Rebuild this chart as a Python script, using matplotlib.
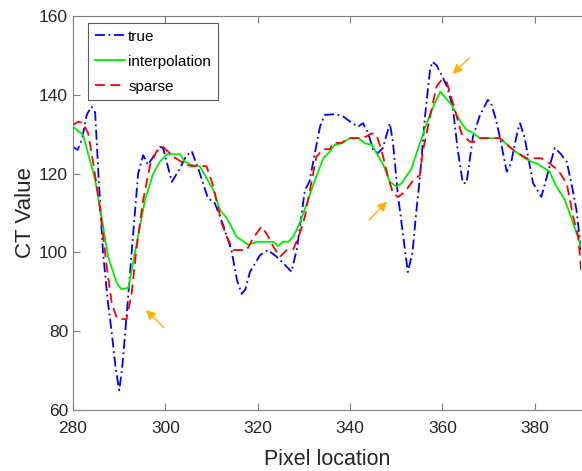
import numpy as np
import matplotlib
matplotlib.use("Agg")
import matplotlib.pyplot as plt

plt.rcParams['font.family'] = ['Liberation Sans', 'DejaVu Sans']

# true profile
x_true = [280, 281, 282, 283, 284, 284.8, 285.5, 286.5, 287.5, 288.4, 289.2, 290, 290.6, 291.3, 292.7,
          294.1, 295.2, 296.2, 297.5, 298.8, 299.5, 300.5, 301.4, 303, 304.5, 305.7, 307.2, 309.2,
          310.7, 312.5, 314.3, 315.5, 316.5, 317.3, 318.3, 320.5, 322.2, 324, 325.5, 327.3, 328.5,
          330.2, 331.2, 332.5, 333.5, 334.5, 337, 338.5, 340, 341.7, 342.8, 343.9, 345, 346, 347.1,
          348.6, 349.3, 350.3, 351.4, 352.5, 353.5, 354.3, 355.1, 356.2, 357.3, 357.8, 358.7, 360,
          361, 362.2, 363.3, 364.4, 365.2, 366.6, 368, 369.8, 370.5, 371.5, 372.4, 373.9, 374.8,
          376.3, 376.8, 377.8, 379.6, 381.4, 383, 384.3, 385.6, 386.9, 388, 389, 390]
y_true = [126.8, 126, 129, 135, 137, 135.5, 120, 100, 88, 79.5, 71, 65, 70, 79.5, 100,
          120, 124.7, 122.2, 124.5, 126.8, 126.5, 122, 117.9, 121, 124.5, 125.7, 121, 113.8,
          112.5, 107, 100.6, 93, 89.5, 90.5, 95, 99.3, 100.6, 99, 97.3, 95.1, 101,
          115.8, 118, 126, 132, 134.9, 135.1, 134.5, 133.2, 131.9, 132.8, 130.3, 126, 125.2, 126.5,
          132.8, 127.7, 115, 105, 95, 100, 110, 119, 134.4, 146.3, 148.4, 147.5, 144.6,
          142, 137, 126, 117.6, 117.6, 129.4, 134.5, 138.7, 138, 134, 129.4, 120.5, 122.5,
          131.1, 132.8, 129, 117.6, 114.1, 121, 126.5, 125, 123, 117, 110.8, 100.5]

# interpolation profile
x_interp = [280, 282.2, 284.8, 286.2, 287.6, 289.5, 290.5, 292, 293.8, 295.6, 297.4, 298.8, 300.3,
            303.2, 304.2, 305.7, 307.5, 310.4, 311.8, 313.3, 315.4, 318, 319.8, 323.4, 324.4,
            325.5, 326.6, 327.7, 329.1, 330.9, 332.4, 334.2, 335.3, 336.7, 338.2, 340, 341.8,
            343.2, 344.7, 347.2, 348.6, 350.1, 351.1, 353.3, 355.1, 357.3, 359.5, 362, 364,
            365.2, 366.3, 368.1, 372.4, 375.3, 377.8, 379.3, 380.4, 383.2, 384.3, 386.5, 388.3, 390]
y_interp = [131.9, 129.8, 118.4, 109, 98.9, 92.2, 90.7, 91, 102.4, 113.3, 120.1, 123, 124.9,
            124.9, 123, 122.2, 121.8, 115.8, 110.8, 108.7, 104, 101.9, 102.7, 102.7, 101.6,
            102.7, 102.7, 104, 107.4, 113.3, 118.4, 123.9, 125.2, 127.3, 127.7, 129, 129,
            127.7, 127.3, 122.2, 117.9, 116.7, 117.5, 121.3, 127.7, 135.1, 140.8, 137.4, 133,
            131.1, 130.6, 129, 129, 126, 123.9, 123, 122.6, 120.5, 117.5, 113.3, 107.4, 101.4]

# sparse profile
x_sparse = [280, 281.1, 282.2, 283.3, 284.4, 285.8, 287.3, 288.4, 289.5, 291.6, 292.7, 293.8, 295.2,
            296.7, 298.1, 299.5, 301.7, 304.6, 306, 308.9, 310.4, 312.2, 313.3, 314.7, 317.6,
            319, 320.8, 321.9, 323.4, 324.8, 326.3, 327.7, 329.1, 330.2, 331.3, 332.7, 334.2,
            335.6, 336.3, 338.2, 339.6, 342.8, 344.7, 345.7, 346.8, 348.2, 349.3, 350.4, 351.9,
            353.7, 355.1, 355.8, 357.3, 358.7, 359.8, 360.9, 362.3, 364.1, 365.9, 367.4, 368.1,
            372.4, 375.5, 378.2, 381.4, 383.2, 385, 386.9, 388.3, 389.4, 390]
y_sparse = [132.3, 133.2, 132.8, 130.2, 122.6, 111.6, 96.4, 87.1, 83.3, 83, 89.6, 101.4, 113.3,
            122.2, 125.6, 126.8, 124.3, 122.2, 121.9, 121.9, 116.7, 107.4, 104, 100.6, 100.6,
            103.6, 106.5, 104.8, 101.4, 98.9, 100.6, 100.8, 104.8, 109, 115.8, 124.3, 126.2,
            126.2, 127.8, 127.8, 129, 129, 130.2, 129.8, 126, 119.2, 115, 114.1, 115.4,
            118.4, 119.6, 126, 134.4, 142.1, 143.8, 143.3, 137.8, 130.2, 128.1, 128.1, 129,
            129, 125.8, 123.9, 123.9, 122.6, 120.9, 117.5, 109, 104, 95.5]

# arrows: (tail x, tail y, head x, head y)
arrows = [(299.7, 80.9, 295.8, 85.4),
          (344.1, 108.2, 348.0, 112.9),
          (365.8, 149.3, 362.2, 145.3)]

fig = plt.figure(figsize=(5.82, 4.71), dpi=100)
ax = fig.add_axes([0.1254, 0.1295, 0.873, 0.8365])

ax.plot(x_true, y_true, color='#0000ff', lw=1.3, dashes=(5.5, 2, 1, 2), label='true')
ax.plot(x_interp, y_interp, color='#00ee00', lw=1.3, label='interpolation')
ax.plot(x_sparse, y_sparse, color='#ff0000', lw=1.3, dashes=(5.5, 3), label='sparse')

for tx, ty, hx, hy in arrows:
    ax.annotate('', xy=(hx, hy), xytext=(tx, ty),
                arrowprops=dict(arrowstyle='-|>', color='#ffb000', lw=1.0,
                                mutation_scale=14, shrinkA=0, shrinkB=0))

ax.set_xlim(280, 390)
ax.set_ylim(60, 160)
ax.set_xticks(np.arange(280, 381, 20))
ax.set_yticks(np.arange(60, 161, 20))
ax.tick_params(direction='in', top=True, right=False, labelsize=12.5,
               colors='#262626', length=5)
ax.tick_params(axis='x', pad=8)
for s in ['left', 'bottom', 'top']:
    ax.spines[s].set_color('#7f7f7f')
ax.spines['right'].set_visible(False)
ax.tick_params(axis='both', color='#7f7f7f')

ax.set_xlabel('Pixel location', fontsize=15.5, color='#262626', labelpad=9)
ax.set_ylabel('CT Value', fontsize=16, color='#262626', labelpad=2)

leg = ax.legend(loc='upper left', bbox_to_anchor=(0.029, 0.983), borderaxespad=0,
                fontsize=11, handlelength=2.0, borderpad=0.45,
                labelspacing=0.72, handletextpad=0.2, fancybox=False)
leg.get_frame().set_edgecolor('#333333')
leg.get_frame().set_linewidth(0.8)

plt.savefig('out.png', dpi=100)
